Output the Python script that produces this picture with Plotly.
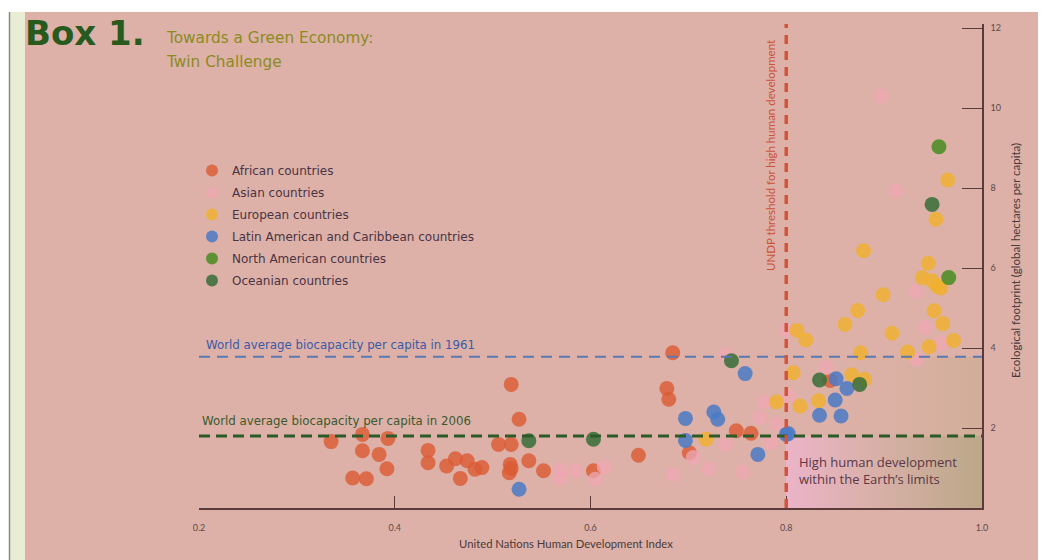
import plotly.graph_objects as go

# ---------------- data ----------------
african_hdi = [0.335, 0.357, 0.371, 0.367, 0.367, 0.384, 0.392, 0.393, 0.434, 0.434,
               0.453, 0.462, 0.474, 0.467, 0.482, 0.489, 0.506, 0.519, 0.519, 0.527,
               0.518, 0.519, 0.517, 0.537, 0.552, 0.603, 0.649, 0.684, 0.678, 0.680,
               0.701, 0.749, 0.764, 0.845]
african_fp = [1.66, 0.75, 0.73, 1.84, 1.43, 1.34, 0.98, 1.74, 1.44, 1.13,
              1.05, 1.23, 1.18, 0.74, 0.97, 1.01, 1.59, 1.59, 3.09, 2.22,
              1.09, 0.99, 0.88, 1.18, 0.93, 0.93, 1.32, 3.88, 2.99, 2.72,
              1.38, 1.93, 1.87, 3.19]

asian_hdi = [0.569, 0.569, 0.585, 0.614, 0.605, 0.684, 0.705, 0.721, 0.738, 0.756,
             0.784, 0.773, 0.777, 0.790, 0.738, 0.800, 0.803, 0.841, 0.933, 0.958,
             0.942, 0.932, 0.912, 0.897]
asian_fp = [0.95, 0.74, 0.93, 1.03, 0.72, 0.84, 1.26, 0.98, 1.59, 0.90,
            1.63, 2.26, 2.65, 2.10, 3.84, 4.44, 2.80, 3.51, 3.72, 4.11,
            4.51, 5.41, 7.93, 10.30]

european_hdi = [0.718, 0.790, 0.807, 0.811, 0.820, 0.814, 0.833, 0.860, 0.873, 0.876,
                0.867, 0.880, 0.908, 0.924, 0.946, 0.951, 0.960, 0.971, 0.879, 0.899,
                0.945, 0.939, 0.949, 0.954, 0.958, 0.953, 0.965]
european_fp = [1.72, 2.65, 3.38, 4.44, 4.20, 2.55, 2.68, 4.59, 4.94, 3.88,
               3.33, 3.22, 4.37, 3.90, 4.03, 4.93, 4.61, 4.19, 6.43, 5.33,
               6.12, 5.76, 5.68, 5.55, 5.50, 7.22, 8.20]

latin_hdi = [0.527, 0.697, 0.726, 0.730, 0.697, 0.758, 0.771, 0.800, 0.802, 0.851,
             0.862, 0.850, 0.834, 0.856]
latin_fp = [0.47, 2.24, 2.40, 2.22, 1.69, 3.36, 1.34, 1.84, 1.86, 3.23,
            2.99, 2.70, 2.32, 2.30]

north_american_hdi = [0.956, 0.966]
north_american_fp = [9.03, 5.76]

oceanian_hdi = [0.537, 0.603, 0.744, 0.834, 0.875, 0.949]
oceanian_fp = [1.68, 1.72, 3.68, 3.20, 3.09, 7.59]

series_names = ["African countries", "Asian countries", "European countries",
                "Latin American and Caribbean countries", "North American countries",
                "Oceanian countries"]

HDI_THRESHOLD = 0.8
BIOCAP_1961 = 3.78
BIOCAP_2006 = 1.80

x_ticks = [0.2, 0.4, 0.6, 0.8, 1.0]
x_tick_labels = ["0.2", "0.4", "0.6", "0.8", "1.0"]
y_ticks = [2, 4, 6, 8, 10, 12]
y_tick_labels = ["2", "4", "6", "8", "10", "12"]

# ---------------- layout helpers ----------------
# the page body has an 8px margin, so the figure starts at (8, 8) of the window
OFF = 8
WIN_W, WIN_H = 1046, 560
W, H = WIN_W - OFF, WIN_H - OFF
PLOT_L, PLOT_R, PLOT_T, PLOT_B = 199, 982, 24, 508      # window pixels
ML, MR, MT, MB = PLOT_L - OFF, WIN_W - PLOT_R, PLOT_T - OFF, WIN_H - PLOT_B


def px2x(px):
    return (px - PLOT_L) / (PLOT_R - PLOT_L)


def py2y(py):
    return (PLOT_B - py) / (PLOT_B - PLOT_T)


colors = ["#dc5c36", "#eea6b2", "#f0b02e", "#4a7ac6", "#4f8e26", "#3c6e3a"]
opacities = [0.82, 0.78, 0.82, 0.85, 0.9, 0.88]
series = [(african_hdi, african_fp), (asian_hdi, asian_fp), (european_hdi, european_fp),
          (latin_hdi, latin_fp), (north_american_hdi, north_american_fp),
          (oceanian_hdi, oceanian_fp)]

fig = go.Figure()

# shaded "within earth's limits" box
fig.add_trace(go.Scatter(
    x=[HDI_THRESHOLD, 1.0, 1.0, HDI_THRESHOLD, HDI_THRESHOLD],
    y=[0, 0, BIOCAP_2006, BIOCAP_2006, 0],
    mode="lines", fill="toself", line=dict(width=0),
    fillgradient=dict(type="horizontal",
                      colorscale=[[0, "#ebb4c8"], [0.45, "#d9b0a8"], [1, "#bba888"]]),
    showlegend=False, hoverinfo="skip"))
# faint tint above it
fig.add_trace(go.Scatter(
    x=[HDI_THRESHOLD, 1.0, 1.0, HDI_THRESHOLD, HDI_THRESHOLD],
    y=[BIOCAP_2006, BIOCAP_2006, BIOCAP_1961, BIOCAP_1961, BIOCAP_2006],
    mode="lines", fill="toself", line=dict(width=0),
    fillgradient=dict(type="horizontal",
                      colorscale=[[0, "rgba(221,177,168,0)"], [1, "rgba(200,172,140,0.55)"]]),
    showlegend=False, hoverinfo="skip"))

for name, (xs, ys), c, op in zip(series_names, series, colors, opacities):
    fig.add_trace(go.Scatter(
        x=xs, y=ys, mode="markers", name=name, legendgroup=name,
        marker=dict(size=15, color=c, opacity=op, line=dict(width=0)),
        hoverinfo="x+y+name"))

shapes = [
    # pink panel
    dict(type="rect", xref="paper", yref="paper", x0=px2x(25), x1=px2x(WIN_W + 20),
         y0=py2y(WIN_H + 20), y1=py2y(12), fillcolor="#ddb1a8", line=dict(width=0),
         layer="below"),
    # cream strip + grey rule at the left
    dict(type="rect", xref="paper", yref="paper", x0=px2x(10), x1=px2x(25),
         y0=py2y(WIN_H + 20), y1=py2y(12), fillcolor="#e9edd3", line=dict(width=0),
         layer="below"),
    dict(type="line", xref="paper", yref="paper", x0=px2x(9.5), x1=px2x(9.5),
         y0=py2y(WIN_H + 20), y1=py2y(12), line=dict(color="#8a8a80", width=1.5),
         layer="below"),
    # reference lines
    dict(type="line", xref="x", yref="y", x0=0.2, x1=1.0, y0=BIOCAP_1961, y1=BIOCAP_1961,
         line=dict(color="#5a78b2", width=2, dash="11px,7px")),
    dict(type="line", xref="x", yref="y", x0=0.2, x1=1.0, y0=BIOCAP_2006, y1=BIOCAP_2006,
         line=dict(color="#2c5a28", width=3, dash="11px,6px")),
    dict(type="line", xref="x", yref="y", x0=HDI_THRESHOLD, x1=HDI_THRESHOLD, y0=0, y1=12.1,
         line=dict(color="#d4533a", width=3.5, dash="9px,7px")),
]

TXT = "Lato"
BODY = "Open Sans"
WIDE = "DejaVu Sans"
ann = []


def add_text(text, px, py, size, color, family=TXT, xanchor="left", angle=0,
             weight="normal"):
    ann.append(dict(text=text, x=px2x(px), y=py2y(py),
                    xref="paper", yref="paper", xanchor=xanchor, yanchor="middle",
                    showarrow=False, textangle=angle,
                    font=dict(family=family, size=size, color=color, weight=weight)))


add_text("Box 1.", 23, 33, 34, "#285a1e", family=WIDE, weight="bold")
add_text("Towards a Green Economy:", 164, 38, 15.3, "#8b8b22", family=WIDE)
add_text("Twin Challenge", 164, 62, 15.3, "#8b8b22", family=WIDE)
add_text("World average biocapacity per capita in 1961", 204, 345, 11.8, "#3a5aa6",
         family=WIDE)
add_text("World average biocapacity per capita in 2006", 200, 421, 11.8, "#3a5a2c",
         family=WIDE)
add_text("High human development", 797, 462, 13, "#5a3848", family=BODY)
add_text("within the Earth\u2019s limits", 797, 479, 13, "#5a3848", family=BODY)
add_text("UNDP threshold for high human development", 770, 156, 11.5, "#cc5238",
         xanchor="center", angle=-90)
add_text("Ecological footprint (global hectares per capita)", 1015, 260, 11.5, "#4a3a3a",
         xanchor="center", angle=-90)
add_text("United Nations Human Development Index", 566, 543, 11.3, "#4a3a3a",
         xanchor="center")

fig.update_layout(
    width=W, height=H,
    margin=dict(l=ML, r=MR, t=MT, b=MB, pad=0),
    paper_bgcolor="white", plot_bgcolor="rgba(0,0,0,0)",
    shapes=shapes, annotations=ann,
    showlegend=True,
    legend=dict(x=px2x(192), y=py2y(156), xanchor="left", yanchor="top",
                bgcolor="rgba(0,0,0,0)", borderwidth=0, tracegroupgap=3,
                itemsizing="constant",
                font=dict(family=WIDE, size=12, color="#4a3444")),
    xaxis=dict(range=[0.2, 1.0], tickvals=x_ticks, ticktext=x_tick_labels,
               showgrid=False, zeroline=False, showline=True, linecolor="#5a3a3a",
               linewidth=1.5, ticks="inside", ticklen=12, tickwidth=1.3, tickcolor="#5a3a3a",
               ticklabelstandoff=10, tickfont=dict(family=TXT, size=9, color="#5a4a4a")),
    yaxis=dict(range=[0, 12.1], side="right", tickvals=y_ticks, ticktext=y_tick_labels,
               showgrid=False, zeroline=False, showline=True, linecolor="#5a3a3a",
               linewidth=1.5, ticks="inside", ticklen=20, tickwidth=1.3, tickcolor="#5a3a3a",
               ticklabelstandoff=5, tickfont=dict(family=TXT, size=9, color="#5a4a4a")),
)

fig.write_html("out.html")
